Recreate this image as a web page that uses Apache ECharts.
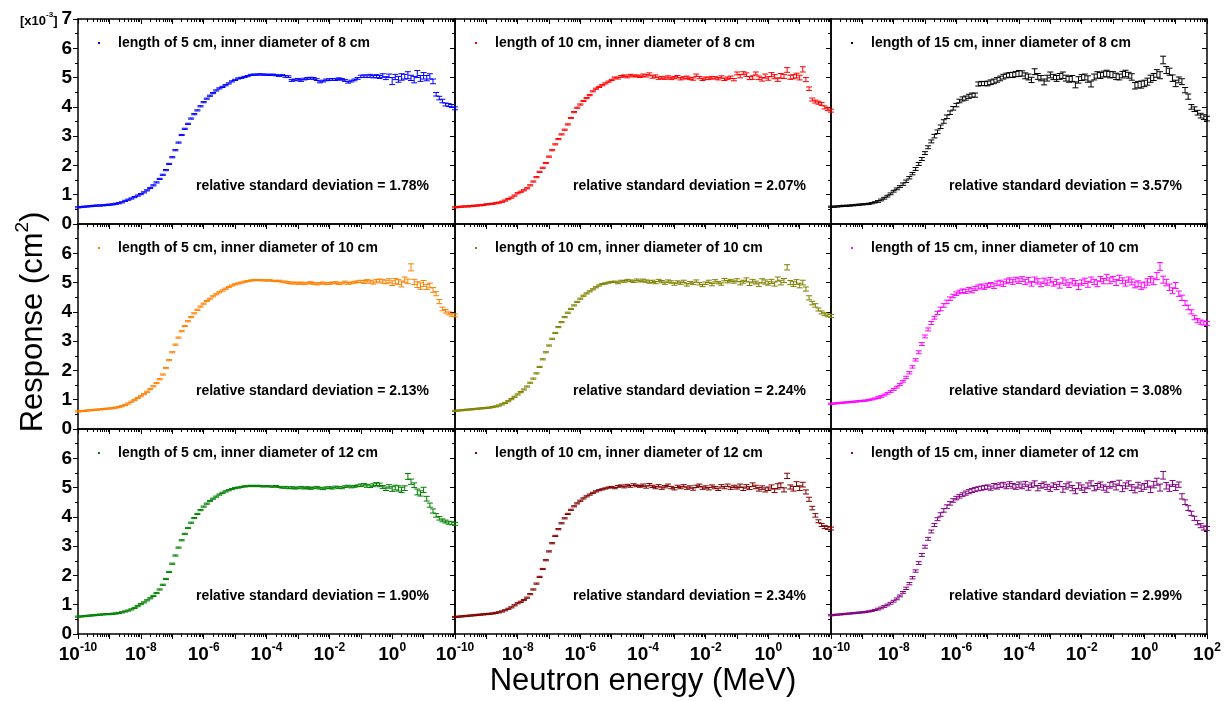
<!DOCTYPE html>
<html><head><meta charset="utf-8">
<script src="https://cdn.jsdelivr.net/npm/echarts@6/dist/echarts.min.js"></script>
<style>html,body{margin:0;padding:0;background:#fff}#c{width:1231px;height:701px}</style>
</head><body><div id="c"></div>
<script>
// log10 of neutron energy (MeV)
const LOG_E = [-10,-9.9,-9.8,-9.7,-9.6,-9.5,-9.4,-9.3,-9.2,-9.1,
 -9,-8.9,-8.8,-8.7,-8.6,-8.5,-8.4,-8.3,-8.2,-8.1,
 -8,-7.9,-7.8,-7.7,-7.6,-7.5,-7.4,-7.3,-7.2,-7.1,
 -7,-6.9,-6.8,-6.7,-6.6,-6.5,-6.4,-6.3,-6.2,-6.1,
 -6,-5.9,-5.8,-5.7,-5.6,-5.5,-5.4,-5.3,-5.2,-5.1,
 -5,-4.9,-4.8,-4.7,-4.6,-4.5,-4.4,-4.3,-4.2,-4.1,
 -4,-3.9,-3.8,-3.7,-3.6,-3.5,-3.4,-3.3,-3.2,-3.1,
 -3,-2.9,-2.8,-2.7,-2.6,-2.5,-2.4,-2.3,-2.2,-2.1,
 -2,-1.9,-1.8,-1.7,-1.6,-1.5,-1.4,-1.3,-1.2,-1.1,
 -1,-0.9,-0.8,-0.7,-0.6,-0.5,-0.4,-0.3,-0.2,-0.1,
 0,0.1,0.2,0.3,0.4,0.5,0.6,0.7,0.8,0.9,
 1,1.1,1.2,1.3,1.4,1.5,1.6,1.7,1.8,1.9,
 2];

// Response values [x10^-3 cm^2]
const V1 = [0.57,0.58,0.59,0.60,0.61,0.62,0.63,0.63,0.64,0.65,
 0.66,0.67,0.69,0.71,0.74,0.79,0.83,0.87,0.92,0.97,
 1.02,1.08,1.15,1.23,1.32,1.42,1.54,1.68,1.84,2.05,
 2.28,2.52,2.78,3.04,3.25,3.42,3.60,3.75,3.88,4.02,
 4.16,4.28,4.38,4.47,4.56,4.63,4.68,4.74,4.80,4.87,
 4.92,4.97,4.99,5.02,5.05,5.09,5.10,5.10,5.11,5.10,
 5.10,5.09,5.10,5.08,5.06,5.08,5.04,5.03,4.90,4.92,
 4.94,4.90,4.95,4.97,4.98,4.97,4.93,4.85,4.88,4.92,
 4.93,4.94,4.93,4.96,4.94,4.90,4.84,4.88,4.92,4.97,
 5.04,5.05,5.04,5.06,5.03,5.05,5.02,5.07,4.98,5.06,
 4.88,5.02,4.94,5.02,5.03,5.08,4.99,4.93,5.12,4.97,
 5.06,4.98,5.04,4.87,4.43,4.30,4.20,4.08,4.06,4.03,
 3.95];
const V2 = [0.57,0.58,0.59,0.60,0.60,0.61,0.62,0.63,0.64,0.65,
 0.67,0.68,0.69,0.71,0.73,0.76,0.80,0.85,0.90,0.97,
 1.05,1.10,1.15,1.22,1.32,1.45,1.60,1.78,1.92,2.08,
 2.30,2.52,2.72,2.90,3.06,3.22,3.40,3.62,3.82,3.97,
 4.08,4.20,4.30,4.40,4.53,4.62,4.68,4.74,4.80,4.86,
 4.92,5.00,4.98,5.04,5.06,5.02,5.08,5.05,5.06,5.03,
 5.08,5.06,5.12,5.02,5.05,4.98,5.00,4.98,5.02,4.97,
 5.00,5.03,4.96,4.99,5.01,4.97,4.95,5.08,5.00,4.94,
 4.98,4.97,5.00,4.99,4.96,5.02,4.94,4.98,5.01,4.93,
 5.14,5.05,5.15,5.10,4.98,5.00,5.14,4.99,4.94,5.05,
 4.97,5.10,5.03,4.93,5.06,5.04,5.26,5.01,5.03,5.07,
 5.00,5.28,4.93,4.62,4.25,4.18,4.14,4.10,3.98,3.92,
 3.87];
const V3 = [0.59,0.59,0.60,0.61,0.62,0.62,0.63,0.64,0.65,0.66,
 0.67,0.68,0.69,0.71,0.74,0.77,0.82,0.88,0.95,1.03,
 1.12,1.20,1.28,1.36,1.46,1.58,1.72,1.88,2.05,2.22,
 2.42,2.62,2.82,3.00,3.15,3.32,3.50,3.66,3.80,3.95,
 4.06,4.20,4.27,4.30,4.36,4.40,4.40,4.78,4.80,4.79,
 4.80,4.84,4.87,4.92,4.97,5.03,5.07,5.09,5.09,5.12,
 5.14,5.14,5.06,5.02,4.92,5.20,5.04,4.98,4.85,4.98,
 5.09,5.02,4.97,5.04,5.08,4.98,4.94,4.97,4.75,4.92,
 5.00,5.02,4.95,4.78,5.02,5.09,5.07,5.12,5.14,5.10,
 5.10,5.04,5.02,5.10,5.14,5.08,5.02,4.72,4.76,4.76,
 4.80,4.86,4.96,5.02,5.14,5.08,5.60,5.26,5.20,4.98,
 4.80,4.92,4.86,4.57,4.35,4.00,3.92,3.80,3.70,3.65,
 3.60];
const V4 = [0.60,0.61,0.62,0.63,0.64,0.65,0.66,0.67,0.68,0.69,
 0.70,0.71,0.73,0.75,0.78,0.82,0.87,0.93,0.99,1.06,
 1.12,1.19,1.27,1.36,1.46,1.57,1.70,1.86,2.08,2.35,
 2.62,2.88,3.12,3.34,3.52,3.68,3.82,3.95,4.07,4.18,
 4.28,4.37,4.45,4.53,4.60,4.67,4.73,4.79,4.85,4.90,
 4.94,4.97,5.00,5.03,5.05,5.07,5.08,5.09,5.08,5.08,
 5.07,5.08,5.06,5.05,5.06,5.03,5.02,5.00,4.98,4.99,
 4.97,4.99,4.96,4.98,5.00,4.97,4.95,4.97,4.99,4.96,
 4.97,4.99,5.00,4.96,4.98,5.02,4.97,4.99,5.01,5.03,
 5.04,5.02,5.06,5.03,5.00,5.05,5.07,5.04,5.02,5.06,
 4.98,5.05,5.02,4.95,5.10,5.04,5.52,5.02,4.93,4.88,
 4.97,4.85,4.90,4.75,4.62,4.35,4.10,4.02,3.95,3.90,
 3.88];
const V5 = [0.62,0.63,0.64,0.65,0.66,0.67,0.68,0.69,0.70,0.71,
 0.72,0.73,0.75,0.77,0.80,0.84,0.89,0.95,1.02,1.10,
 1.18,1.26,1.35,1.45,1.58,1.72,1.90,2.12,2.38,2.62,
 2.85,3.08,3.28,3.48,3.65,3.82,3.97,4.10,4.22,4.34,
 4.45,4.55,4.63,4.70,4.77,4.84,4.90,4.95,4.97,5.00,
 5.02,5.03,4.99,5.05,5.04,5.08,5.06,5.03,5.09,5.05,
 5.08,5.05,5.02,5.04,5.00,5.07,5.03,4.98,5.05,5.02,
 4.95,5.02,4.98,5.04,4.92,5.00,4.97,5.05,4.96,4.90,
 4.98,5.04,4.93,5.06,5.00,4.95,5.10,5.03,5.07,5.02,
 5.08,4.98,5.03,5.10,4.96,5.05,5.00,4.93,5.06,5.02,
 4.97,5.04,4.95,5.12,5.00,5.07,5.52,5.00,4.95,5.02,
 4.90,5.00,4.78,4.48,4.30,4.22,4.08,3.98,3.92,3.88,
 3.86];
const V6 = [0.86,0.87,0.88,0.89,0.90,0.91,0.92,0.93,0.94,0.95,
 0.96,0.97,0.99,1.01,1.04,1.07,1.11,1.16,1.22,1.28,
 1.35,1.43,1.52,1.63,1.76,1.92,2.12,2.36,2.62,2.90,
 3.16,3.40,3.62,3.80,3.96,4.10,4.22,4.34,4.45,4.54,
 4.62,4.68,4.72,4.70,4.76,4.72,4.80,4.85,4.88,4.84,
 4.90,4.93,4.88,4.97,5.00,4.95,5.04,5.08,5.02,5.10,
 5.06,5.12,5.02,5.08,4.96,5.10,5.04,4.94,5.06,5.00,
 5.08,4.96,5.02,4.90,5.06,5.00,4.92,5.04,4.98,4.86,
 5.00,5.06,4.94,5.10,5.02,4.96,5.12,5.05,5.18,5.06,
 5.12,5.00,5.16,5.06,4.98,5.10,5.02,4.92,4.96,4.88,
 4.92,5.02,5.10,5.04,5.22,5.55,5.10,5.00,4.84,4.72,
 4.90,4.62,4.48,4.30,4.15,4.00,3.80,3.70,3.65,3.62,
 3.60];
const V7 = [0.59,0.60,0.61,0.62,0.63,0.64,0.65,0.66,0.67,0.68,
 0.68,0.69,0.70,0.72,0.74,0.77,0.80,0.84,0.89,0.95,
 1.02,1.08,1.15,1.22,1.30,1.40,1.52,1.68,1.88,2.12,
 2.40,2.68,2.95,3.20,3.42,3.62,3.80,3.96,4.10,4.23,
 4.35,4.45,4.54,4.62,4.69,4.76,4.82,4.87,4.91,4.95,
 4.98,5.00,5.02,5.04,5.05,5.06,5.05,5.06,5.05,5.04,
 5.05,5.04,5.03,5.05,5.02,5.00,5.01,4.99,5.00,4.98,
 4.99,5.01,4.98,5.00,4.97,4.99,5.01,4.98,4.96,4.99,
 5.00,4.98,5.02,5.00,4.99,5.03,5.05,5.02,5.04,5.06,
 5.08,5.10,5.06,5.04,5.08,5.12,5.09,5.02,4.96,5.04,
 4.95,5.00,4.97,4.92,4.98,5.38,5.20,5.08,4.85,4.80,
 4.92,4.62,4.40,4.20,4.05,3.95,3.88,3.84,3.80,3.78,
 3.76];
const V8 = [0.58,0.59,0.60,0.61,0.62,0.63,0.64,0.65,0.66,0.67,
 0.68,0.69,0.70,0.72,0.74,0.77,0.81,0.86,0.91,0.98,
 1.05,1.10,1.16,1.24,1.36,1.52,1.72,1.95,2.22,2.52,
 2.82,3.10,3.35,3.58,3.78,3.95,4.10,4.24,4.36,4.46,
 4.55,4.63,4.70,4.76,4.82,4.87,4.91,4.94,4.97,5.00,
 5.02,4.98,5.04,5.06,5.02,5.08,5.04,5.10,5.06,5.04,
 5.08,5.02,5.10,5.04,5.00,5.06,4.98,5.03,5.08,5.00,
 4.96,5.04,5.00,5.06,4.98,5.02,4.95,5.04,5.08,4.98,
 5.02,4.96,5.05,5.00,4.94,5.06,5.00,5.08,4.98,5.04,
 5.00,5.06,4.96,5.04,4.98,5.10,5.02,4.94,5.00,4.92,
 4.96,5.02,4.90,5.04,5.08,4.92,5.40,5.02,4.96,5.12,
 4.98,5.10,4.85,4.60,4.30,4.05,3.85,3.72,3.65,3.62,
 3.60];
const V9 = [0.64,0.65,0.66,0.67,0.68,0.69,0.70,0.71,0.72,0.73,
 0.74,0.75,0.77,0.79,0.82,0.85,0.89,0.94,0.99,1.05,
 1.12,1.20,1.30,1.42,1.56,1.72,1.92,2.15,2.42,2.70,
 2.98,3.25,3.50,3.72,3.92,4.08,4.22,4.35,4.46,4.56,
 4.64,4.70,4.76,4.81,4.86,4.90,4.93,4.96,4.98,5.00,
 5.02,4.98,5.06,5.03,5.08,5.10,5.04,5.12,5.06,5.02,
 5.10,5.04,5.12,5.00,5.08,5.14,4.98,5.06,5.10,5.02,
 4.96,5.08,5.02,5.12,4.94,5.04,5.10,4.98,4.88,5.06,
 5.00,4.92,5.06,5.14,4.98,5.04,5.10,5.00,4.94,5.08,
 5.12,5.02,5.16,4.96,5.06,5.14,5.00,4.92,5.08,4.98,
 5.04,5.12,4.94,5.10,5.20,5.00,5.42,5.06,4.98,5.14,
 5.00,5.10,4.70,4.50,4.30,4.12,3.95,3.80,3.70,3.62,
 3.60];

// Half error bars, in hundredths of the response unit
const E1 = [2,2,2,2,2,2,2,2,2,2, 2,2,2,2,2,2,2,2,2,2, 2,2,2,2,2,2,2,2,2,2, 2,2,2,2,2,2,2,2,2,2, 2,2,2,2,2,2,2,2,2,2,
 2,2,2,2,2,2,2,2,2,2, 2,2,2,2,2,2,3,3,3,3, 3,3,3,3,3,3,3,3,3,3, 3,3,3,3,3,3,3,3,3,3,
 4,4,4,5,4,5,5,6,5,6, 12,9,10,11,8,12,9,11,12,10, 11,9,9,8,6,6,6,5,5,5, 5];
const E2 = [2,2,2,2,2,2,2,2,2,2, 2,2,2,2,2,2,2,2,2,2, 2,2,2,2,2,2,2,2,2,2, 2,2,2,2,2,2,2,2,2,2, 2,2,2,2,2,2,2,2,2,2,
 2,2,3,3,3,3,3,3,3,3, 4,4,4,4,4,4,4,4,4,4, 4,4,4,4,4,4,4,4,4,4, 4,4,4,4,4,4,4,4,4,4,
 5,6,5,6,5,6,5,6,6,7, 6,7,7,6,8,7,8,7,7,8, 8,9,7,6,5,5,5,5,5,5, 5];
const E3 = [2,2,2,2,2,2,2,2,2,2, 2,2,2,2,2,3,3,3,3,3,
 3,3,3,4,4,4,4,5,5,5, 5,5,5,6,6,6,6,6,6,6,
 6,6,7,7,7,7,7,7,7,7, 8,8,8,8,8,8,8,8,9,9,
 10,9,10,10,9,10,10,9,10,10, 10,9,10,10,11,10,10,10,10,11,
 10,10,11,10,10,11,10,10,11,11, 10,11,10,11,11,10,11,11,11,12,
 11,12,12,12,13,12,13,12,12,11, 11,10,10,9,9,8,8,8,8,8, 8];
const E4 = [2,2,2,2,2,2,2,2,2,2, 2,2,2,2,2,2,2,2,2,2, 2,2,2,2,2,2,2,2,2,2, 2,2,2,2,2,2,2,2,2,2, 2,2,2,2,2,2,2,2,2,2,
 2,2,2,2,2,2,2,2,2,2, 2,2,2,2,2,2,3,3,3,3, 3,3,3,3,3,3,3,3,3,3, 3,3,3,3,3,3,3,3,3,3,
 4,5,4,5,5,6,5,6,6,7, 8,9,8,10,9,8,12,9,10,11, 10,9,8,8,7,7,6,6,5,5, 5];
const E5 = [2,2,2,2,2,2,2,2,2,2, 2,2,2,2,2,2,2,2,2,2, 2,2,2,2,2,2,2,2,2,2, 2,2,2,2,2,2,2,2,2,2, 2,2,2,2,2,2,2,2,2,2,
 2,2,3,3,3,3,3,3,3,3, 4,4,4,4,4,4,4,4,4,4, 4,4,4,4,4,4,4,4,4,4, 4,4,4,4,4,4,4,4,4,4,
 5,6,5,6,6,6,5,6,7,7, 6,7,7,7,8,7,9,7,8,8, 8,8,7,7,6,6,5,5,5,5, 5];
const E6 = [2,2,2,2,2,2,2,2,2,2, 2,2,2,2,2,3,3,3,3,3,
 3,3,3,3,4,4,4,4,5,5, 5,5,5,5,5,6,6,6,6,6,
 6,6,6,7,7,7,7,7,7,7, 7,7,8,8,8,8,8,8,8,8,
 9,8,9,9,8,9,9,8,9,9, 9,8,9,9,10,9,9,9,9,10,
 9,9,10,9,9,10,9,9,10,10, 9,10,9,10,10,9,10,10,10,11,
 10,11,11,11,12,13,12,11,11,10, 10,9,9,8,8,7,7,7,7,7, 7];
const E7 = [2,2,2,2,2,2,2,2,2,2, 2,2,2,2,2,2,2,2,2,2, 2,2,2,2,2,2,2,2,2,2, 2,2,2,2,2,2,2,2,2,2, 2,2,2,2,2,2,2,2,2,2,
 2,2,2,2,2,2,2,2,2,2, 2,2,2,2,2,2,3,3,3,3, 3,3,3,3,3,3,3,3,3,3, 3,3,3,3,3,3,3,3,3,3,
 4,4,5,4,5,5,6,5,6,6, 8,8,9,9,8,10,9,8,10,9, 9,8,7,7,6,6,5,5,5,5, 5];
const E8 = [2,2,2,2,2,2,2,2,2,2, 2,2,2,2,2,2,2,2,2,2, 2,2,2,2,2,2,2,2,2,2, 2,2,2,2,2,2,2,2,2,2, 2,2,2,2,2,2,2,2,2,2,
 2,2,3,3,3,3,3,3,3,3, 4,4,4,4,4,4,4,4,4,4, 4,4,4,4,4,4,4,4,4,4, 4,4,4,4,4,4,4,4,4,4,
 5,6,6,6,5,6,6,6,6,7, 6,7,7,9,8,7,9,7,8,8, 8,8,7,7,6,6,5,5,5,5, 5];
const E9 = [2,2,2,2,2,2,2,2,2,2, 2,2,2,2,2,3,3,3,3,3,
 3,3,3,3,4,4,4,4,5,5, 5,5,5,5,5,6,6,6,6,6,
 6,6,6,7,7,7,7,7,7,7, 7,7,8,8,8,8,8,8,8,8,
 9,8,9,9,8,9,9,8,9,9, 9,8,9,9,10,9,9,9,9,10,
 9,9,10,9,9,10,9,9,10,10, 9,10,9,10,10,9,10,10,10,11,
 10,11,11,11,12,12,13,11,11,10, 10,9,9,8,8,7,7,7,7,7, 7];

const LABELS = [
 'length of 5 cm, inner diameter of 8 cm','length of 10 cm, inner diameter of 8 cm','length of 15 cm, inner diameter of 8 cm',
 'length of 5 cm, inner diameter of 10 cm','length of 10 cm, inner diameter of 10 cm','length of 15 cm, inner diameter of 10 cm',
 'length of 5 cm, inner diameter of 12 cm','length of 10 cm, inner diameter of 12 cm','length of 15 cm, inner diameter of 12 cm'];
const RSD = ['1.78%','2.07%','3.57%','2.13%','2.24%','3.08%','1.90%','2.34%','2.99%'];
const VALUES = [V1,V2,V3,V4,V5,V6,V7,V8,V9];
const ERRORS = [E1,E2,E3,E4,E5,E6,E7,E8,E9];

// styles / layout
const COLORS = ['#0000FF','#FF0000','#000000','#FF8000','#808000','#FF00FF','#008000','#800000','#800080'];
const FONT = "'Liberation Sans', Arial, Helvetica, sans-serif";
const COL_LEFT = [78,455,831], COL_W = [377,376,376];
const ROW_TOP = [19,224,429], ROW_H = 205;

const minorVals = [];
for (let d = -10; d < 2; d++) for (let m = 2; m <= 9; m++) minorVals.push(d + Math.log10(m));

function renderErr(params, api) {
  const x = api.value(0), y = api.value(1), e = api.value(2);
  const t = api.coord([x, y + e]), b = api.coord([x, y - e]);
  const hw = 3, color = api.visual('color');
  const st = {stroke: color, lineWidth: 1};
  return {type: 'group', children: [
    {type: 'line', shape: {x1: t[0], y1: t[1], x2: b[0], y2: b[1]}, style: st},
    {type: 'line', shape: {x1: t[0]-hw, y1: t[1], x2: t[0]+hw, y2: t[1]}, style: st},
    {type: 'line', shape: {x1: b[0]-hw, y1: b[1], x2: b[0]+hw, y2: b[1]}, style: st}
  ]};
}

const grid = [], xAxis = [], yAxis = [], series = [], legend = [], graphic = [];
const lineSt = {color: '#000', width: 1.5};
const tickSt = {color: '#000', width: 1};
const xRich = {
  b: {fontFamily: FONT, fontSize: 19, fontWeight: 'bold', color: '#000', lineHeight: 22, verticalAlign: 'bottom'},
  s: {fontFamily: FONT, fontSize: 12, fontWeight: 'bold', color: '#000', lineHeight: 12, verticalAlign: 'top'}
};

for (let i = 0; i < 9; i++) {
  const r = Math.floor(i / 3), c = i % 3;
  grid.push({left: COL_LEFT[c], top: ROW_TOP[r], width: COL_W[c], height: ROW_H, show: false, outerBoundsMode: 'none', containLabel: false});
  const xb = {gridIndex: i, type: 'value', min: -10, max: 2, interval: 1, splitLine: {show: false}, minorSplitLine: {show: false}};
  xAxis.push(Object.assign({}, xb, {position: 'bottom',
    axisLine: {show: true, onZero: false, lineStyle: lineSt},
    axisTick: {show: true, inside: false, length: 5, lineStyle: tickSt},
    axisLabel: {show: r === 2, margin: 8, rich: xRich, showMinLabel: true, showMaxLabel: true,
      formatter: v => { const n = Math.round(v); return (n % 2 === 0 && (c === 2 || n < 2)) ? '{b|10}{s|' + n + '}' : ''; }}}));
  xAxis.push(Object.assign({}, xb, {position: 'bottom',
    axisLine: {show: false, onZero: false},
    axisTick: {show: true, inside: false, length: 3, lineStyle: tickSt, customValues: minorVals},
    axisLabel: {show: false}}));
  xAxis.push(Object.assign({}, xb, {position: 'top',
    axisLine: {show: true, onZero: false, lineStyle: lineSt},
    axisTick: {show: true, inside: true, length: 5, lineStyle: tickSt},
    axisLabel: {show: false}}));
  xAxis.push(Object.assign({}, xb, {position: 'top',
    axisLine: {show: false, onZero: false},
    axisTick: {show: true, inside: true, length: 3, lineStyle: tickSt, customValues: minorVals},
    axisLabel: {show: false}}));
  const yb = {gridIndex: i, type: 'value', min: 0, max: 7, interval: 1, splitLine: {show: false}, minorSplitLine: {show: false}};
  yAxis.push(Object.assign({}, yb, {position: 'left',
    axisLine: {show: true, onZero: false, lineStyle: lineSt},
    axisTick: {show: true, inside: false, length: 5, lineStyle: tickSt},
    minorTick: {show: true, splitNumber: 2, length: 3, lineStyle: tickSt},
    axisLabel: {show: c === 0, margin: 6, color: '#000', fontFamily: FONT, fontSize: 19, fontWeight: 'bold',
      showMinLabel: true, showMaxLabel: true,
      formatter: v => (r > 0 && v === 7) ? '' : String(v)}}));
  yAxis.push(Object.assign({}, yb, {position: 'right',
    axisLine: {show: true, onZero: false, lineStyle: lineSt},
    axisTick: {show: true, inside: true, length: 5, lineStyle: tickSt},
    minorTick: {show: true, splitNumber: 2, length: 3, lineStyle: tickSt},
    axisLabel: {show: false}}));

  const v = VALUES[i], e = ERRORS[i];
  series.push({
    type: 'custom', name: LABELS[i], xAxisIndex: 4 * i, yAxisIndex: 2 * i,
    coordinateSystem: 'cartesian2d', renderItem: renderErr, clip: false,
    itemStyle: {color: COLORS[i]}, encode: {x: 0, y: 1},
    data: LOG_E.map((x, k) => [x, v[k], e[k] / 100])
  });
  legend.push({
    data: [LABELS[i]], left: COL_LEFT[c] + 20, top: ROW_TOP[r] + 17, padding: 0,
    icon: 'rect', itemWidth: 2, itemHeight: 2, selectedMode: false,
    textStyle: {fontFamily: FONT, fontSize: 14, fontWeight: 'bold', color: '#000', padding: [0, 0, 0, 13]}
  });
  graphic.push({type: 'text', x: COL_LEFT[c] + 118, y: ROW_TOP[r] + 167, silent: true,
    style: {text: 'relative standard deviation = ' + RSD[i], fontFamily: FONT, fontSize: 14, fontWeight: 'bold',
      fill: '#000', verticalAlign: 'middle', align: 'left'}});
}

graphic.push({type: 'text', x: 643, y: 681, silent: true,
  style: {text: 'Neutron energy (MeV)', fontFamily: FONT, fontSize: 31, fill: '#000', align: 'center', verticalAlign: 'middle'}});
graphic.push({type: 'text', x: 31, y: 322, rotation: Math.PI / 2, silent: true,
  style: {text: '{a|Response (cm}{s|2}{a|)}', align: 'center', verticalAlign: 'middle',
    rich: {a: {fontFamily: FONT, fontSize: 31, fill: '#000', lineHeight: 36, verticalAlign: 'bottom'},
           s: {fontFamily: FONT, fontSize: 19, fill: '#000', lineHeight: 20, verticalAlign: 'top'}}}});
graphic.push({type: 'text', x: 20, y: 19, silent: true,
  style: {text: '{a|[x10}{s|-3}{a|]}', align: 'left', verticalAlign: 'middle',
    rich: {a: {fontFamily: FONT, fontSize: 13, fontWeight: 'bold', fill: '#000', lineHeight: 17, verticalAlign: 'bottom'},
           s: {fontFamily: FONT, fontSize: 8, fontWeight: 'bold', fill: '#000', lineHeight: 9, verticalAlign: 'top'}}}});

const chart = echarts.init(document.getElementById('c'), null, {renderer: 'canvas'});
chart.setOption({
  backgroundColor: '#fff', animation: false,
  grid, xAxis, yAxis, series, legend, graphic
});
</script>
</body></html>
